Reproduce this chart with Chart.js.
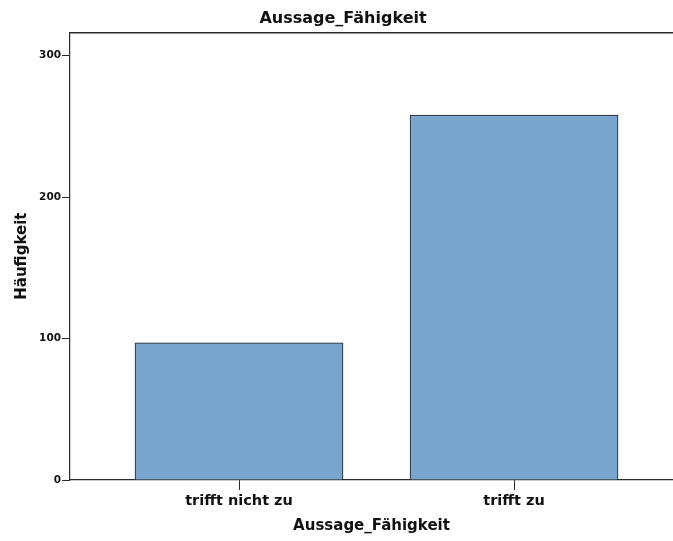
<!DOCTYPE html>
<html>
<head>
<meta charset="utf-8">
<script src="https://cdn.jsdelivr.net/npm/chart.js@4/dist/chart.umd.min.js"></script>
<style>
  html, body { margin: 0; padding: 0; background: #fff; }
  #wrap { width: 673px; height: 541px; }
</style>
</head>
<body>
<div id="wrap"><canvas id="bars"></canvas></div>
<script>
const categories = ['trifft nicht zu', 'trifft zu'];
const counts = [97, 258];
const yTicks = [0, 100, 200, 300];

const FONT = "'DejaVu Sans', Verdana, sans-serif";
const LINE = '#2b2b2b';

// top frame line of the plot area (SPSS style box without right edge)
const topFrame = {
  id: 'topFrame',
  afterDraw(chart) {
    const { ctx, chartArea } = chart;
    ctx.save();
    ctx.strokeStyle = LINE;
    ctx.lineWidth = 1.5;
    ctx.beginPath();
    ctx.moveTo(chartArea.left, chartArea.top + 0.5);
    ctx.lineTo(chart.width, chartArea.top + 0.5);
    ctx.stroke();
    ctx.restore();
  }
};

new Chart(document.getElementById('bars'), {
  type: 'bar',
  data: {
    datasets: [{
      data: counts.map((v, i) => ({ x: i, y: v })),
      backgroundColor: '#79a5cf',
      borderColor: '#1a1a1a',
      borderWidth: 1,
      barThickness: 208
    }]
  },
  options: {
    responsive: true,
    maintainAspectRatio: false,
    animation: false,
    layout: { padding: { left: 13, right: 0, top: 0, bottom: 0 } },
    plugins: {
      legend: { display: false },
      tooltip: { enabled: false },
      title: {
        display: true,
        text: 'Aussage_Fähigkeit',
        color: '#111',
        font: { family: FONT, size: 16, weight: 'bold' },
        padding: { top: 9, bottom: 4 }
      }
    },
    scales: {
      x: {
        type: 'linear',
        offset: false,
        min: -0.6145,
        max: 1.578,
        afterBuildTicks: s => { s.ticks = categories.map((_, i) => ({ value: i })); },
        afterFit: s => { s.height = 61; },
        ticks: {
          autoSkip: false,
          maxRotation: 0,
          padding: 3,
          color: '#111',
          font: { family: FONT, size: 14.5, weight: 'bold' },
          callback: v => categories[v]
        },
        grid: { offset: false, drawOnChartArea: false, drawTicks: true, tickLength: 10, color: LINE },
        border: { display: true, color: LINE, width: 1.2 },
        title: {
          display: true,
          text: 'Aussage_Fähigkeit',
          color: '#111',
          font: { family: FONT, size: 15, weight: 'bold' },
          padding: { top: 4, bottom: 6 }
        }
      },
      y: {
        min: 0,
        max: 316.5,
        afterBuildTicks: s => { s.ticks = yTicks.map(v => ({ value: v })); },
        afterFit: s => { s.width = 57; },
        ticks: {
          padding: 1,
          color: '#111',
          font: { family: FONT, size: 10.5, weight: 'bold' }
        },
        grid: { drawOnChartArea: false, drawTicks: true, tickLength: 8, color: LINE },
        border: { display: true, color: LINE, width: 1.2 },
        title: {
          display: true,
          text: 'Häufigkeit',
          color: '#111',
          font: { family: FONT, size: 15, weight: 'bold' },
          padding: { top: 0, bottom: 0 }
        }
      }
    }
  },
  plugins: [topFrame]
});
</script>
</body>
</html>
